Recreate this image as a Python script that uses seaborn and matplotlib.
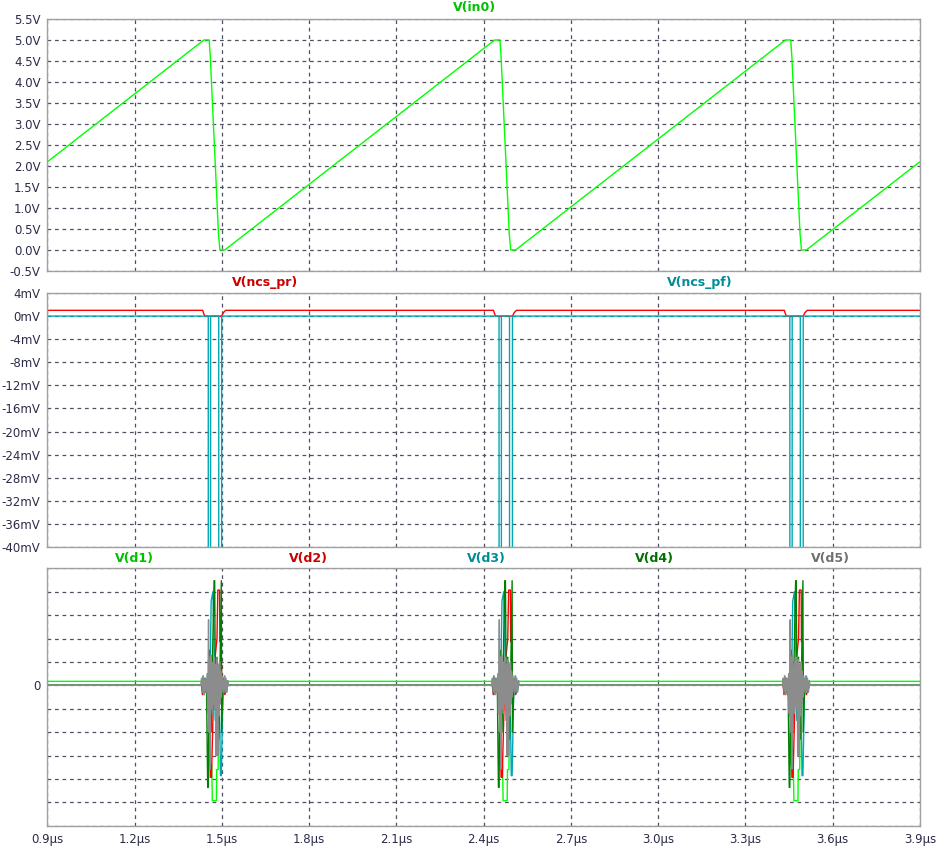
import numpy as np
import pandas as pd
import matplotlib
matplotlib.use("Agg")
import matplotlib.pyplot as plt
import seaborn as sns

sns.set_style("white")
plt.rcParams['font.family'] = ['DejaVu Sans']

# ---- data ----
# V(in0): sawtooth vertices (time in us, volts)
t_in0 = [0.900, 1.438, 1.456, 1.460, 1.488, 1.493, 1.510,
         2.438, 2.456, 2.460, 2.488, 2.493, 2.510,
         3.438, 3.456, 3.460, 3.488, 3.493, 3.510, 3.900]
v_in0 = [2.10, 5.00, 5.00, 4.60, 0.40, 0.00, 0.00,
         5.00, 5.00, 4.60, 0.40, 0.00, 0.00,
         5.00, 5.00, 4.60, 0.40, 0.00, 0.00, 2.10]

# switching events (us) -- bursts repeat around these
events = [1.475, 2.475, 3.475]

# middle panel (offsets in ns from event, values in mV)
pr_ns = [-41, -38, -34, 24, 30, 34, 38]
pr_mv = [1.0, 0.5, 0.0, 0.0, 0.6, 0.8, 1.0]
pr_base = 1.0
pf_ns = [-22, -21.9, -14, -13.9, 14, 14.1, 24, 24.1]
pf_mv = [0, -60, -60, 0, 0, -60, -60, 0]
pf_base = 0.0

# bottom panel bursts (offsets in ns, values in grid units)
d1_ns = [-45, -40, -35, -30, -20, -19, -10, -8, 6, 7, 12, 14, 30]
d1_v = [0.17, -0.3, 0.3, 0.17, 0.17, -3.4, -3.4, -4.93, -4.93, -3.6, -3.6, 0.17, 0.17]
d1_base = 0.17
d2_ns = [-45, -42, -38, -34, -30, -17, -15, -11, -5, 0, 8, 11, 17, 18, 22, 25, 30, 35, 45]
d2_v = [0, -0.4, 0.3, -0.3, 0, -1.7, -3.93, -3.93, -1.0, 1.0, 2.0, 4.07, 4.07, 1.86, 1.86, -0.5, 0.2, -0.4, 0]
d3_ns = [-45, -40, -36, -32, -28, -15, -12, -6, -3, 2, 5, 12, 18, 20, 23, 28, 35, 40, 45]
d3_v = [0, 0.4, -0.4, 0.3, 0, 1.0, 3.6, 4.0, 2.5, -1.5, 1.0, 0.5, -2.0, -3.86, -3.86, -0.5, 0.4, -0.3, 0]
d4_ns = [-45, -41, -37, -33, -28, -24, -22, -18, -12, -6, -2, 0, 3, 8, 14, 18, 23, 24, 30, 36, 42]
d4_v = [0, -0.3, 0.3, -0.3, 0, -4.36, -4.36, 1.5, -2.0, 2.0, 4.47, 4.47, -1.0, 1.2, -2.3, 0.5, 4.47, -2.0, 0.3, -0.3, 0]
d5_ns = [-48, -45, -42, -39, -36, -33, -30, -26, -24, -21, -19, -17, -15, -13, -11, -9, -7, -5, -3, -1,
         1, 3, 5, 7, 9, 11, 13, 15, 17, 19, 21, 23, 26, 30, 33, 36, 39, 42, 45, 48]
d5_v = [0, 0.3, -0.3, 0.4, -0.4, 0.3, -0.3, 0.5, -1.2, 2.8, -2.0, 1.2, -3.57, 1.3, -1.0, 0.8, -1.2, 1.0, -0.8, 1.2,
        -1.0, 0.9, -3.0, 1.1, -1.0, -3.0, 0.9, -1.3, 1.0, -0.8, 0.6, -0.5, 0.4, -0.3, 0.4, -0.3, 0.3, -0.3, 0.2, 0]

x_ticks = [0.9, 1.2, 1.5, 1.8, 2.1, 2.4, 2.7, 3.0, 3.3, 3.6, 3.9]

C_LIME = "#00ff00"
C_RED = "#ff0000"
C_TEAL = "#00a8b4"
C_DKGRN = "#008000"
C_GRAY = "#8c8c8c"
TXT = "#2b2b48"


def build(offs_ns, vals, base):
    t = [0.9]
    v = [base]
    for e in events:
        t += [e + o / 1000.0 for o in offs_ns]
        v += list(vals)
    t.append(3.9)
    v.append(base)
    return pd.DataFrame({"t": t, "v": v})


def trace(ax, df, color, lw=1.0):
    sns.lineplot(data=df, x="t", y="v", ax=ax, color=color, lw=lw,
                 estimator=None, sort=False, legend=False)


def style(ax, yticks, ylabels, show_x=False):
    ax.set_xlim(0.9, 3.9)
    ax.set_xticks(x_ticks)
    ax.set_yticks(yticks)
    ax.set_yticklabels(ylabels)
    if show_x:
        ax.set_xticklabels([f"{x:.1f}µs" for x in x_ticks])
    else:
        ax.set_xticklabels([])
    ax.grid(True, color="#505060", linestyle=(0, (3, 3)), lw=0.9)
    ax.set_xlabel("")
    ax.set_ylabel("")
    for s in ax.spines.values():
        s.set_color("#a0a0a0")
        s.set_linewidth(1.0)
    ax.tick_params(direction="out", length=4, width=0.9, color="#a0a0a0",
                   labelsize=8.5, labelcolor=TXT, pad=1)
    ax.set_axisbelow(True)


fig = plt.figure(figsize=(9.36, 8.51), dpi=100)
L, W = 0.0507, 0.932
ax1 = fig.add_axes([L, 0.6816, W, 0.2961])
ax2 = fig.add_axes([L, 0.3572, W, 0.2985])
ax3 = fig.add_axes([L, 0.0297, W, 0.3025])

# top: V(in0)
trace(ax1, pd.DataFrame({"t": t_in0, "v": v_in0}), C_LIME)
ax1.set_ylim(-0.5, 5.5)
yt1 = [-0.5 + 0.5 * i for i in range(13)]
style(ax1, yt1, [f"{y:.1f}V" for y in yt1])
ax1.text(0.489, 1.045, "V(in0)", transform=ax1.transAxes, ha="center", va="center",
         color="#00c000", fontsize=9, fontweight="bold")

# middle: V(ncs_pr), V(ncs_pf)
trace(ax2, build(pr_ns, pr_mv, pr_base), C_RED)
trace(ax2, build(pf_ns, pf_mv, pf_base), C_TEAL)
ax2.set_ylim(-40, 4)
yt2 = list(range(-40, 5, 4))
style(ax2, yt2, [f"{y}mV" for y in yt2])
ax2.text(0.249, 1.04, "V(ncs_pr)", transform=ax2.transAxes, ha="center", va="center",
         color="#cc0000", fontsize=9, fontweight="bold")
ax2.text(0.748, 1.04, "V(ncs_pf)", transform=ax2.transAxes, ha="center", va="center",
         color="#008c96", fontsize=9, fontweight="bold")

# bottom: V(d1)..V(d5)
trace(ax3, build(d1_ns, d1_v, d1_base), C_LIME)
trace(ax3, build(d2_ns, d2_v, 0.0), C_RED)
trace(ax3, build(d3_ns, d3_v, 0.0), C_TEAL)
trace(ax3, build(d4_ns, d4_v, 0.0), C_DKGRN)
trace(ax3, build(d5_ns, d5_v, 0.0), C_GRAY)
ax3.set_ylim(-6, 5)
yt3 = list(range(-6, 6))
style(ax3, yt3, ["0" if y == 0 else "" for y in yt3], show_x=True)
for xf, name, col in [(0.100, "V(d1)", "#00c000"), (0.299, "V(d2)", "#cc0000"),
                      (0.503, "V(d3)", "#008c96"), (0.696, "V(d4)", "#007000"),
                      (0.897, "V(d5)", "#707070")]:
    ax3.text(xf, 1.04, name, transform=ax3.transAxes, ha="center", va="center",
             color=col, fontsize=9, fontweight="bold")

fig.savefig("out.png", dpi=100, facecolor="white")
